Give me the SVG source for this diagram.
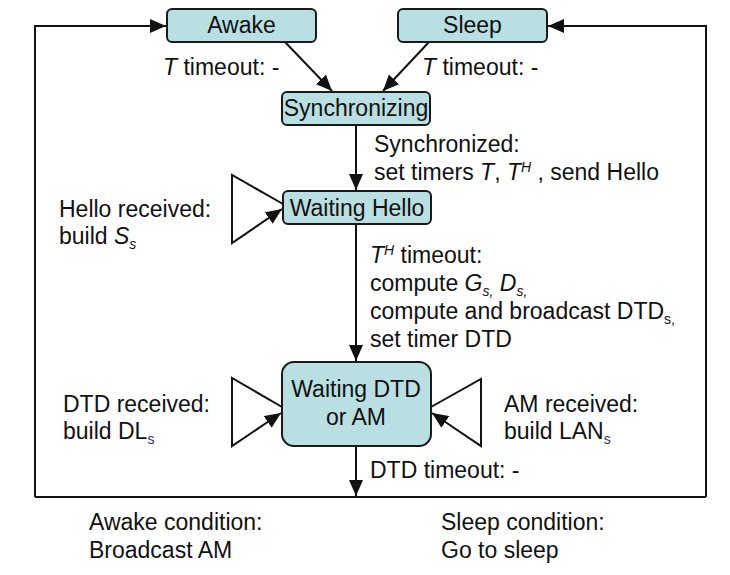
<svg xmlns="http://www.w3.org/2000/svg" width="730" height="575" viewBox="0 0 730 575">
<style>
  .box { fill: #b9dfe3; stroke: #1a1a1a; stroke-width: 2; }
  .bt { font-family: "Liberation Sans", Arial, sans-serif; font-size: 23px; fill: #111; text-anchor: middle; }
  .lb { font-family: "Liberation Sans", Arial, sans-serif; font-size: 23px; fill: #111; }
  .it { font-style: italic; }
  .sm { font-size: 14px; }
  .ln { fill: none; stroke: #111; stroke-width: 2; }
</style>
<defs>
  <marker id="ah" markerUnits="userSpaceOnUse" markerWidth="16" markerHeight="14" refX="16" refY="7" orient="auto">
    <path d="M0,0 L16,7 L0,14 z" fill="#111"/>
  </marker>
</defs>
<rect width="730" height="575" fill="#ffffff"/>

<g id="connectors">
  <path class="ln" d="M35,497 H706"/>
  <path class="ln" d="M35,497 V26 H166" marker-end="url(#ah)"/>
  <path class="ln" d="M706,497 V26 H548" marker-end="url(#ah)"/>
  <path class="ln" d="M285,42 L332,91" marker-end="url(#ah)"/>
  <path class="ln" d="M429,42 L383,91" marker-end="url(#ah)"/>
  <path class="ln" d="M356,125 V190" marker-end="url(#ah)"/>
  <path class="ln" d="M283,204 L232,175 V243 L282,209" marker-end="url(#ah)"/>
  <path class="ln" d="M356,224 V361" marker-end="url(#ah)"/>
  <path class="ln" d="M282,407 L232,378 V446 L281,413" marker-end="url(#ah)"/>
  <path class="ln" d="M431,407 L481,379 V446 L432,413" marker-end="url(#ah)"/>
  <path class="ln" d="M356,446 V496" marker-end="url(#ah)"/>
</g>

<g id="awake">
  <rect class="box" x="167" y="9" width="149" height="33" rx="5"/>
  <text class="bt" x="241.5" y="33">Awake</text>
</g>
<g id="sleep">
  <rect class="box" x="398" y="9" width="149" height="33" rx="5"/>
  <text class="bt" x="472.5" y="33">Sleep</text>
</g>
<g id="synchronizing">
  <rect class="box" x="282" y="92" width="148" height="33" rx="5"/>
  <text class="bt" x="356" y="116">Synchronizing</text>
</g>
<g id="waiting-hello">
  <rect class="box" x="283" y="191" width="148" height="33" rx="5"/>
  <text class="bt" x="357" y="216">Waiting Hello</text>
</g>
<g id="waiting-dtd">
  <rect class="box" x="282" y="362" width="149" height="84" rx="12"/>
  <text class="bt" x="356" y="397">Waiting DTD</text>
  <text class="bt" x="356" y="425">or AM</text>
</g>

<g id="labels">
  <text class="lb" x="163" y="75"><tspan class="it">T</tspan> timeout: -</text>
  <text class="lb" x="422" y="75"><tspan class="it">T</tspan> timeout: -</text>
  <text class="lb" x="374" y="152">Synchronized:</text>
  <text class="lb" x="374" y="180">set timers <tspan class="it">T</tspan>, <tspan class="it">T</tspan><tspan class="it sm" baseline-shift="8">H</tspan> , send Hello</text>
  <text class="lb" x="59" y="217">Hello received:</text>
  <text class="lb" x="59" y="244">build <tspan class="it">S</tspan><tspan class="it sm" baseline-shift="-5">s</tspan></text>
  <text class="lb" x="370" y="263"><tspan class="it">T</tspan><tspan class="it sm" baseline-shift="8">H</tspan> timeout:</text>
  <text class="lb" x="370" y="291">compute <tspan class="it">G</tspan><tspan class="it sm" baseline-shift="-5">s,</tspan> <tspan class="it">D</tspan><tspan class="it sm" baseline-shift="-5">s,</tspan></text>
  <text class="lb" x="370" y="319">compute and broadcast DTD<tspan class="sm" baseline-shift="-5">s,</tspan></text>
  <text class="lb" x="370" y="347">set timer DTD</text>
  <text class="lb" x="63" y="412">DTD received:</text>
  <text class="lb" x="63" y="439">build DL<tspan class="sm" baseline-shift="-5" fill="#3a2a5a">s</tspan></text>
  <text class="lb" x="504" y="412">AM received:</text>
  <text class="lb" x="504" y="439">build LAN<tspan class="sm" baseline-shift="-5" fill="#3a2a5a">s</tspan></text>
  <text class="lb" x="370" y="478">DTD timeout: -</text>
  <text class="lb" x="89" y="530">Awake condition:</text>
  <text class="lb" x="89" y="558">Broadcast AM</text>
  <text class="lb" x="441" y="530">Sleep condition:</text>
  <text class="lb" x="441" y="558">Go to sleep</text>
</g>
</svg>
